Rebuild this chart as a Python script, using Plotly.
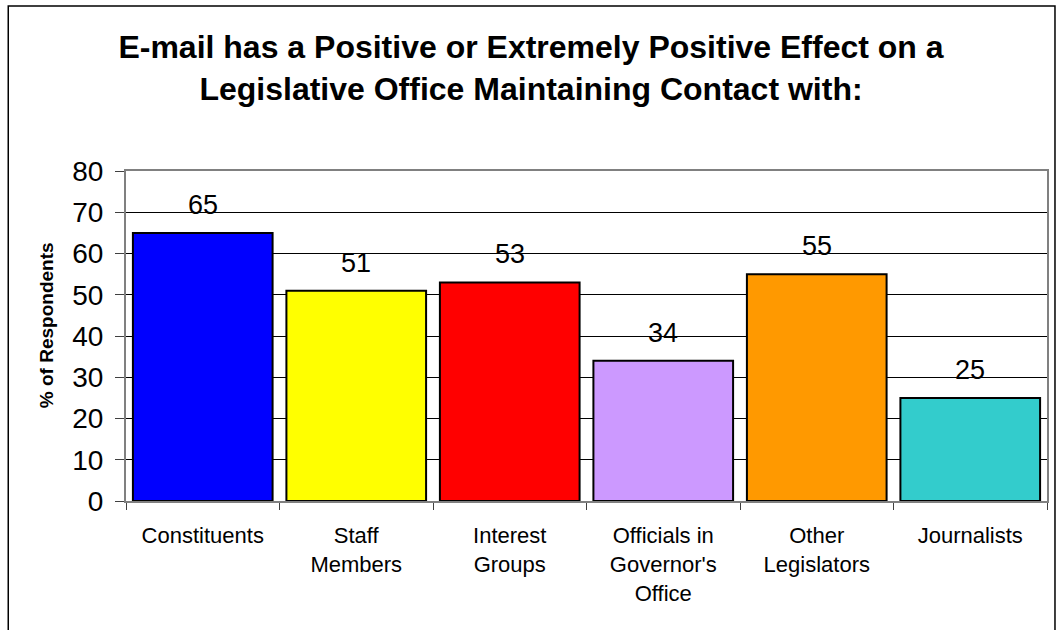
import plotly.graph_objects as go

categories = ["Constituents", "Staff<br>Members", "Interest<br>Groups",
              "Officials in<br>Governor's<br>Office", "Other<br>Legislators", "Journalists"]
values = [65, 51, 53, 34, 55, 25]
colors = ["#0000FF", "#FFFF00", "#FF0000", "#CC99FF", "#FF9900", "#33CCCC"]
y_ticks = [0, 10, 20, 30, 40, 50, 60, 70, 80]
title_text = "E-mail has a Positive or Extremely Positive Effect on a<br>Legislative Office Maintaining Contact with:"
y_title = "% of Respondents"

FONT = "Liberation Sans, Arial, sans-serif"
W, H = 1061, 630
L, R, T, B = 126, 12, 171, 129
pw, ph = W - L - R, H - T - B

fig = go.Figure()
fig.add_trace(go.Bar(
    x=categories, y=values,
    marker=dict(color=colors, line=dict(color="black", width=2)),
    hoverinfo="x+y",
))

annotations = []
for c, v in zip(categories, values):
    annotations.append(dict(x=c, y=v, xref="x", yref="y", text=str(v), showarrow=False,
                            yanchor="middle", yshift=28,
                            font=dict(family=FONT, size=27, color="black")))
annotations.append(dict(x=(46 - L) / pw, y=(501 - 325) / ph, xref="paper", yref="paper",
                        text=y_title, textangle=-90, showarrow=False,
                        xanchor="center", yanchor="middle",
                        font=dict(family=FONT, size=19, color="black", weight="bold")))

fig.update_layout(
    width=W, height=H,
    margin=dict(l=L, r=R, t=T, b=B, pad=0),
    paper_bgcolor="white", plot_bgcolor="white",
    bargap=0.09,
    showlegend=False,
    title=dict(text=title_text, x=531 / W, xanchor="center", xref="container",
               y=1 - 58 / H, yref="container", yanchor="middle",
               font=dict(family=FONT, size=32, color="black", weight="bold")),
    annotations=annotations,
    shapes=[dict(type="rect", xref="paper", yref="paper",
                 x0=(8 - L) / pw, x1=(1057 - L) / pw,
                 y0=(501 - 660) / ph, y1=(501 - 6) / ph,
                 line=dict(color="black", width=1.5), fillcolor="rgba(0,0,0,0)",
                 layer="below")],
    xaxis=dict(
        type="category", tickson="boundaries",
        ticks="outside", ticklen=7, tickcolor="#404040", tickwidth=1,
        showline=True, linecolor="#808080", linewidth=2, mirror=True,
        showgrid=False, ticklabelstandoff=14,
        tickfont=dict(family=FONT, size=22, color="black"),
    ),
    yaxis=dict(
        range=[0, 80], tickvals=y_ticks,
        ticks="outside", ticklen=9, tickcolor="#404040", tickwidth=1,
        showline=True, linecolor="#808080", linewidth=2, mirror=True,
        showgrid=True, gridcolor="black", gridwidth=1,
        zeroline=False, ticklabelstandoff=6,
        tickfont=dict(family=FONT, size=28, color="black"),
    ),
)

fig.write_html("out.html", config={"displayModeBar": False},
               post_script="document.body.style.margin='0';document.body.style.overflow='hidden';")
